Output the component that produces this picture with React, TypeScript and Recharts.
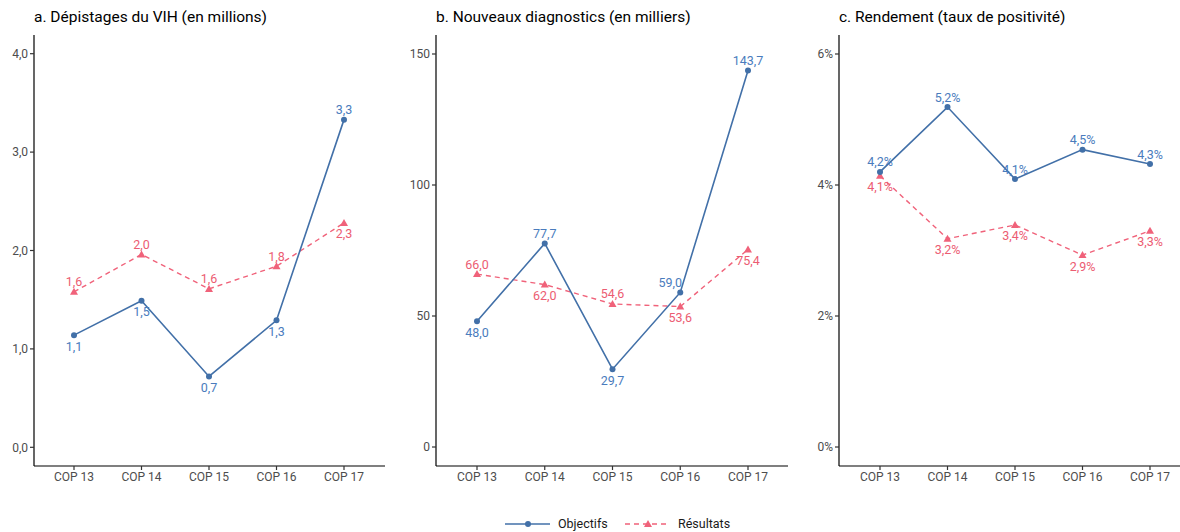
import { LabelList, Line, LineChart, XAxis, YAxis } from "recharts";

const CATEGORIES = ["COP 13", "COP 14", "COP 15", "COP 16", "COP 17"];

// a. Dépistages du VIH (millions)
const DEPISTAGES_OBJECTIFS = [1.14, 1.49, 0.72, 1.29, 3.33];
const DEPISTAGES_RESULTATS = [1.58, 1.96, 1.61, 1.84, 2.28];
const DEPISTAGES_TICKS = [0, 1, 2, 3, 4];

// b. Nouveaux diagnostics (milliers)
const DIAGNOSTICS_OBJECTIFS = [48.0, 77.7, 29.7, 59.0, 143.7];
const DIAGNOSTICS_RESULTATS = [66.0, 62.0, 54.6, 53.6, 75.4];
const DIAGNOSTICS_TICKS = [0, 50, 100, 150];

// c. Rendement (%)
const RENDEMENT_OBJECTIFS = [4.2, 5.19, 4.09, 4.54, 4.32];
const RENDEMENT_RESULTATS = [4.14, 3.18, 3.39, 2.93, 3.3];
const RENDEMENT_TICKS = [0, 2, 4, 6];

const BLUE = "#4270a8";
const BLUE_TEXT = "#4a7cbd";
const RED = "#f0627a";
const RED_TEXT = "#ec5c72";
const FONT = "Roboto, 'Noto Sans', sans-serif";

const comma = (v: number) => v.toFixed(1).replace(".", ",");

type PanelProps = {
  title: string;
  obj: number[];
  res: number[];
  domain: [number, number];
  ticks: number[];
  tickFmt: (v: number) => string;
  labelFmt: (v: number) => string;
  left: number;
  width: number;
  yAxisWidth: number;
  rightMargin: number;
  padLeft: number;
  padRight: number;
  objNudge?: number[];
};

function Triangle(props: any) {
  const { cx, cy } = props;
  if (cx == null || cy == null) return null;
  const s = 4;
  return (
    <polygon
      points={`${cx},${cy - s} ${cx - s},${cy + s * 0.75} ${cx + s},${cy + s * 0.75}`}
      fill={RED}
    />
  );
}

// label goes on the side away from the other series (like the repel in the original)
function makeLabel(
  mine: number[],
  other: number[],
  color: string,
  fmt: (v: number) => string,
  nudge?: number[]
) {
  return (p: any) => {
    const { x, y, index } = p;
    const above = mine[index] > other[index];
    return (
      <text
        x={x + (nudge ? nudge[index] : 0)}
        y={y + (above ? -10 : 11)}
        fill={color}
        fontSize={12.5}
        fontFamily={FONT}
        textAnchor="middle"
        dominantBaseline="central"
      >
        {fmt(mine[index])}
      </text>
    );
  };
}

function Panel(props: PanelProps) {
  const data = CATEGORIES.map((c, i) => ({ cat: c, obj: props.obj[i], res: props.res[i] }));
  return (
    <div style={{ position: "absolute", left: props.left, top: 0, width: props.width, height: 532 }}>
      <div
        style={{
          position: "absolute",
          left: props.yAxisWidth,
          top: 8,
          fontFamily: FONT,
          fontSize: 15.5,
          color: "#000",
          whiteSpace: "nowrap",
        }}
      >
        {props.title}
      </div>
      <LineChart
        width={props.width}
        height={490}
        data={data}
        margin={{ top: 35, right: props.rightMargin, bottom: 0, left: 0 }}
      >
        <XAxis
          dataKey="cat"
          padding={{ left: props.padLeft, right: props.padRight }}
          height={24}
          stroke="#000"
          strokeWidth={1.2}
          tickSize={4}
          tick={{ fill: "#4d4d4d", fontSize: 12, fontFamily: FONT }}
          tickLine={{ stroke: "#333" }}
          interval={0}
        />
        <YAxis
          width={props.yAxisWidth}
          domain={props.domain}
          ticks={props.ticks}
          type="number"
          allowDataOverflow
          stroke="#000"
          strokeWidth={1.2}
          tickSize={4}
          tickLine={{ stroke: "#333" }}
          tick={{ fill: "#4d4d4d", fontSize: 12, fontFamily: FONT }}
          tickFormatter={props.tickFmt}
        />
        <Line
          dataKey="res"
          stroke={RED}
          strokeWidth={1.4}
          strokeDasharray="5 4"
          dot={<Triangle />}
          isAnimationActive={false}
        >
          <LabelList dataKey="res" content={makeLabel(props.res, props.obj, RED_TEXT, props.labelFmt)} />
        </Line>
        <Line
          dataKey="obj"
          stroke={BLUE}
          strokeWidth={1.6}
          dot={{ r: 3, fill: BLUE, stroke: BLUE, strokeWidth: 0 }}
          isAnimationActive={false}
        >
          <LabelList
            dataKey="obj"
            content={makeLabel(props.obj, props.res, BLUE_TEXT, props.labelFmt, props.objNudge)}
          />
        </Line>
      </LineChart>
    </div>
  );
}

export default function App() {
  return (
    <div
      style={{
        position: "absolute",
        left: 0,
        top: 0,
        width: 1180,
        height: 532,
        overflow: "hidden",
        background: "#fff",
      }}
    >
      <Panel
        title="a. Dépistages du VIH (en millions)"
        obj={DEPISTAGES_OBJECTIFS}
        res={DEPISTAGES_RESULTATS}
        domain={[-0.19, 4.19]}
        ticks={DEPISTAGES_TICKS}
        tickFmt={comma}
        labelFmt={comma}
        left={0}
        width={395}
        yAxisWidth={34}
        rightMargin={10}
        padLeft={40}
        padRight={41}
      />
      <Panel
        title="b. Nouveaux diagnostics (en milliers)"
        obj={DIAGNOSTICS_OBJECTIFS}
        res={DIAGNOSTICS_RESULTATS}
        domain={[-7.25, 157.25]}
        ticks={DIAGNOSTICS_TICKS}
        tickFmt={(v) => `${v}`}
        labelFmt={comma}
        left={400}
        width={398}
        yAxisWidth={36}
        rightMargin={10}
        padLeft={41}
        padRight={40}
        objNudge={[0, 0, 0, -10, 0]}
      />
      <Panel
        title="c. Rendement (taux de positivité)"
        obj={RENDEMENT_OBJECTIFS}
        res={RENDEMENT_RESULTATS}
        domain={[-0.29, 6.29]}
        ticks={RENDEMENT_TICKS}
        tickFmt={(v) => `${v}%`}
        labelFmt={(v) => `${comma(v)}%`}
        left={800}
        width={400}
        yAxisWidth={39}
        rightMargin={10}
        padLeft={41}
        padRight={40}
      />
      <div
        style={{
          position: "absolute",
          top: 516,
          left: 0,
          width: 1180,
          height: 16,
          fontFamily: FONT,
          fontSize: 12.5,
          color: "#1a1a1a",
        }}
      >
        <svg width={46} height={16} style={{ position: "absolute", left: 505, top: 0 }}>
          <line x1={0} y1={8} x2={45} y2={8} stroke={BLUE} strokeWidth={1.6} />
          <circle cx={23} cy={8} r={3} fill={BLUE} />
        </svg>
        <span style={{ position: "absolute", left: 558, top: 0, lineHeight: "16px" }}>Objectifs</span>
        <svg width={46} height={16} style={{ position: "absolute", left: 625, top: 0 }}>
          <line x1={0} y1={8} x2={45} y2={8} stroke={RED} strokeWidth={1.4} strokeDasharray="5 4" />
          <polygon points="23,4 19,11 27,11" fill={RED} />
        </svg>
        <span style={{ position: "absolute", left: 678, top: 0, lineHeight: "16px" }}>Résultats</span>
      </div>
    </div>
  );
}
